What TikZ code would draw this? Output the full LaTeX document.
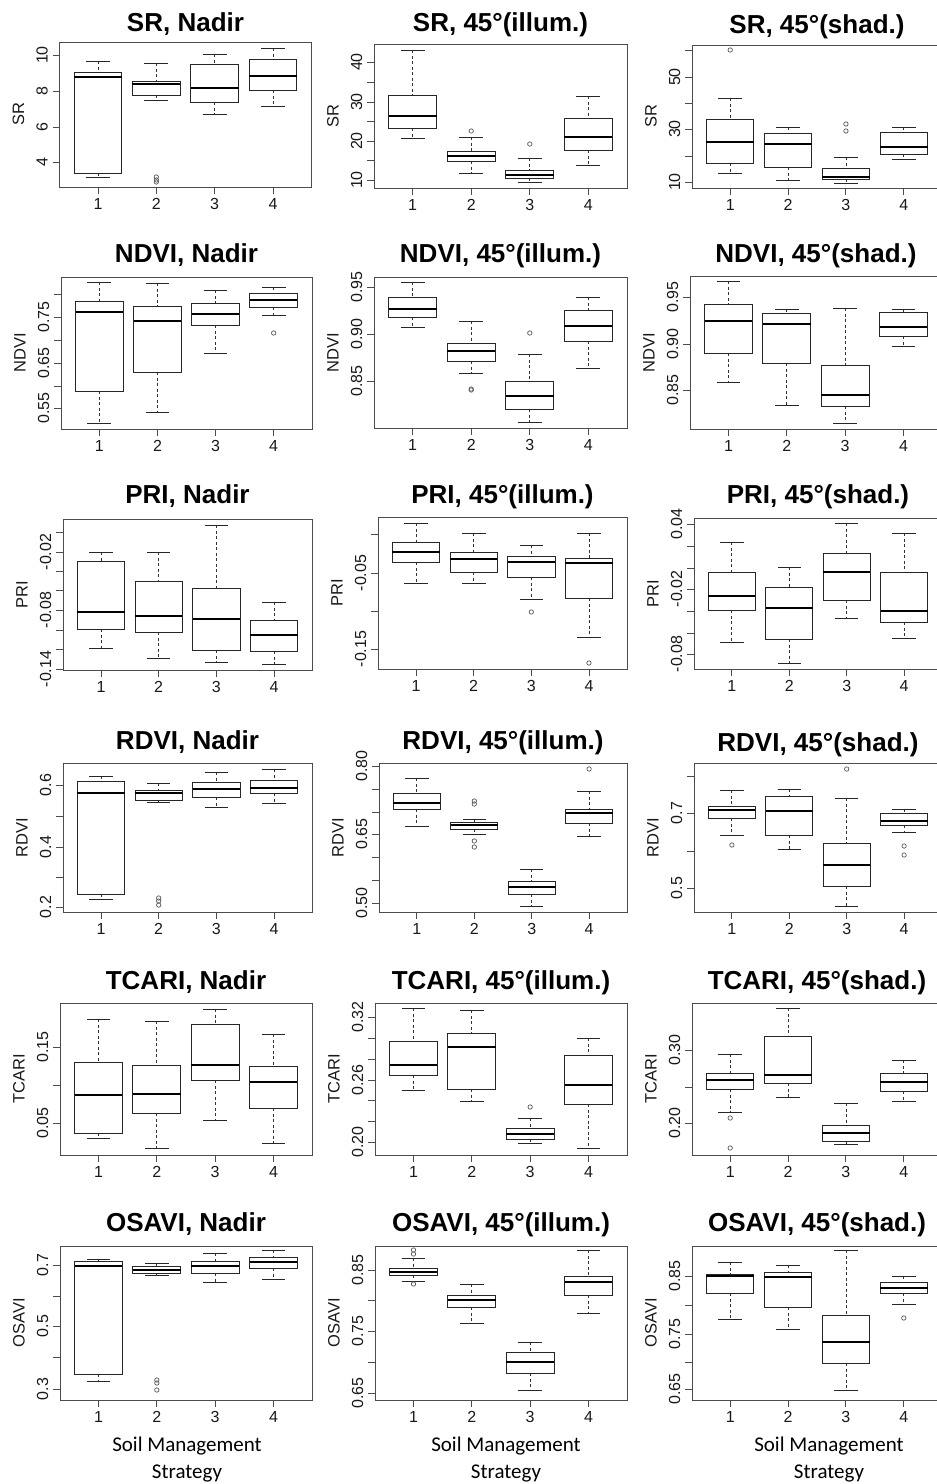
\documentclass[tikz,border=0pt]{standalone}
\usepackage{fontspec}
\setmainfont{Liberation Sans}
\newfontfamily\calfont{Carlito}
\newcommand\setpanel[4]{%
  \pgfmathsetmacro\pL{#1}\pgfmathsetmacro\pR{#2}%
  \pgfmathsetmacro\pT{#3}\pgfmathsetmacro\pB{#4}%
  \pgfmathsetmacro\pS{(#2-#1)/4.32}%
  \pgfmathsetmacro\hw{0.41*\pS}\pgfmathsetmacro\cw{0.205*\pS}%
  \draw[frame] (\pL,\pT) rectangle (\pR,\pB);
  \foreach \i in {1,...,4}{
    \pgfmathsetmacro\xc{\pL+(\i-0.34)*\pS}
    \draw[frame] (\xc,\pB) -- (\xc,\pB+7);
    \node[ticklab] at (\xc,\pB+16.5) {\i};
  }
}
\newcommand\ytk[2]{%
  \draw[frame] (\pL-7,#1) -- (\pL,#1);
  \node[ticklab,rotate=90] at (\pL-17.5,#1) {#2};}
\newcommand\ylab[1]{\node[axlab,rotate=90] at (\pL-41,{(\pT+\pB)/2}) {#1};}
\newcommand\ptitle[2]{\node[ttl,anchor=base] at ({(\pL+\pR)/2},#1+9.5) {#2};}
\newcommand\bxp[6]{%
  \pgfmathsetmacro\xc{\pL+(#1-0.34)*\pS}%
  \draw[whisk] (\xc,#2) -- (\xc,#3) (\xc,#5) -- (\xc,#6);
  \draw[capline] (\xc-\cw,#2) -- (\xc+\cw,#2) (\xc-\cw,#6) -- (\xc+\cw,#6);
  \draw[boxline] (\xc-\hw,#3) rectangle (\xc+\hw,#5);
  \draw[medline] (\xc-\hw,#4) -- (\xc+\hw,#4);}
\newcommand\outp[2]{%
  \pgfmathsetmacro\xc{\pL+(#1-0.34)*\pS}%
  \draw[outl] (\xc,#2) circle[radius=2.2pt];}
\begin{document}
\begin{tikzpicture}[x=1pt,y=-1pt,
  frame/.style={draw=black!70, line width=0.9pt},
  boxline/.style={draw=black!85, line width=0.9pt},
  whisk/.style={draw=black!80, line width=0.8pt, dash pattern=on 3pt off 2.5pt},
  capline/.style={draw=black!85, line width=0.9pt},
  medline/.style={draw=black, line width=2.2pt},
  outl/.style={draw=black!65, line width=0.7pt},
  ticklab/.style={font=\fontsize{16}{16}\selectfont, inner sep=0pt, text=black!90},
  axlab/.style={font=\fontsize{16.5}{16.5}\selectfont, inner sep=0pt, text=black!90},
  ttl/.style={font=\fontsize{26}{26}\selectfont\bfseries, inner sep=0pt},
  botlab/.style={font=\calfont\fontsize{21}{21}\selectfont, inner sep=0pt, anchor=base}]
\useasboundingbox (0,0) rectangle (937,1484);
\clip (0,0) rectangle (937,1484);
\fill[white] (0,0) rectangle (937,1484);
% ---------- Row 1: SR
\setpanel{59.5}{311.5}{42}{187}
\ptitle{22}{SR, Nadir}\ylab{SR}
\ytk{55}{10}\ytk{91}{8}\ytk{127}{6}\ytk{162}{4}
\bxp{1}{61}{72}{77}{173}{177}
\bxp{2}{63}{81}{84}{95}{100}\outp{2}{177}\outp{2}{180}\outp{2}{182}
\bxp{3}{54}{64}{88}{102}{114}
\bxp{4}{48}{59}{76}{90}{106}
\setpanel{374}{627}{44}{188}
\ptitle{22}{SR, 45°(illum.)}\ylab{SR}
\ytk{62}{40}\ytk{82}{}\ytk{102}{30}\ytk{121}{}\ytk{141}{20}\ytk{160}{}\ytk{180}{10}
\bxp{1}{50}{95}{116}{128}{138}
\bxp{2}{137}{151}{156}{161}{173}\outp{2}{131}
\bxp{3}{158}{170}{175}{178}{182}\outp{3}{144}
\bxp{4}{96}{118}{137}{150}{165}
\setpanel{692}{942}{45}{188}
\ptitle{24}{SR, 45°(shad.)}\ylab{SR}
\ytk{50}{}\ytk{77}{50}\ytk{103}{}\ytk{129}{30}\ytk{156}{}\ytk{182}{10}
\bxp{1}{98}{119}{142}{163}{173}\outp{1}{50}
\bxp{2}{127}{133}{144}{167}{180}
\bxp{3}{157}{168}{177}{179}{183}\outp{3}{124}\outp{3}{131}
\bxp{4}{127}{132}{147}{154}{159}
% ---------- Row 2: NDVI
\setpanel{61}{312}{277}{429}
\ptitle{253}{NDVI, Nadir}\ylab{NDVI}
\ytk{294}{}\ytk{317}{0.75}\ytk{340}{}\ytk{363}{0.65}\ytk{386}{}\ytk{408}{0.55}
\bxp{1}{282}{301}{312}{391}{423}
\bxp{2}{283}{306}{321}{372}{412}
\bxp{3}{290}{303}{314}{325}{353}
\bxp{4}{287}{293}{300}{307}{315}\outp{4}{333}
\setpanel{374}{627}{277}{428}
\ptitle{253}{NDVI, 45°(illum.)}\ylab{NDVI}
\ytk{287}{0.95}\ytk{334}{0.90}\ytk{381}{0.85}
\bxp{1}{282}{297}{309}{317}{327}
\bxp{2}{321}{343}{351}{361}{373}\outp{2}{389}\outp{2}{390}
\bxp{3}{354}{381}{396}{409}{422}\outp{3}{333}
\bxp{4}{297}{310}{326}{341}{368}
\setpanel{690}{942}{276}{429}
\ptitle{253}{NDVI, 45°(shad.)}\ylab{NDVI}
\ytk{297}{0.95}\ytk{344}{0.90}\ytk{390}{0.85}
\bxp{1}{281}{304}{321}{353}{382}
\bxp{2}{309}{313}{324}{363}{405}
\bxp{3}{308}{365}{395}{406}{423}
\bxp{4}{309}{312}{327}{336}{346}
% ---------- Row 3: PRI
\setpanel{63}{312}{519}{670}
\ptitle{494}{PRI, Nadir}\ylab{PRI}
\ytk{532}{}\ytk{552}{-0.02}\ytk{571}{}\ytk{590}{}\ytk{610}{-0.08}\ytk{630}{}\ytk{649}{}\ytk{669}{-0.14}
\bxp{1}{552}{561}{612}{629}{648}
\bxp{2}{552}{581}{616}{632}{658}
\bxp{3}{525}{588}{619}{650}{662}
\bxp{4}{602}{620}{635}{651}{664}
\setpanel{378}{627}{517}{669}
\ptitle{494}{PRI, 45°(illum.)}\ylab{PRI}
\ytk{534}{}\ytk{573}{-0.05}\ytk{611}{}\ytk{649}{-0.15}
\bxp{1}{523}{542}{552}{562}{583}
\bxp{2}{533}{552}{559}{572}{583}
\bxp{3}{545}{556}{562}{577}{599}\outp{3}{612}
\bxp{4}{533}{558}{563}{598}{637}\outp{4}{663}
\setpanel{694}{942}{518}{669}
\ptitle{494}{PRI, 45°(shad.)}\ylab{PRI}
\ytk{524}{0.04}\ytk{546}{}\ytk{568}{}\ytk{589}{-0.02}\ytk{611}{}\ytk{633}{}\ytk{654}{-0.08}
\bxp{1}{542}{572}{596}{610}{642}
\bxp{2}{567}{587}{608}{639}{663}
\bxp{3}{523}{553}{572}{600}{618}
\bxp{4}{533}{572}{611}{622}{638}
% ---------- Row 4: RDVI
\setpanel{63}{312}{763}{912}
\ptitle{740}{RDVI, Nadir}\ylab{RDVI}
\ytk{785}{0.6}\ytk{816}{}\ytk{847}{0.4}\ytk{877}{}\ytk{907}{0.2}
\bxp{1}{776}{781}{793}{894}{899}
\bxp{2}{783}{790}{793}{800}{802}\outp{2}{898}\outp{2}{901}\outp{2}{905}
\bxp{3}{772}{782}{789}{797}{807}
\bxp{4}{769}{780}{788}{793}{803}
\setpanel{379}{627}{763}{912}
\ptitle{740}{RDVI, 45°(illum.)}\ylab{RDVI}
\ytk{766}{0.80}\ytk{789}{}\ytk{812}{}\ytk{834}{0.65}\ytk{857}{}\ytk{880}{}\ytk{903}{0.50}
\bxp{1}{778}{793}{803}{809}{826}
\bxp{2}{819}{822}{825}{829}{834}\outp{2}{801}\outp{2}{804}\outp{2}{841}\outp{2}{847}
\bxp{3}{869}{881}{887}{894}{906}
\bxp{4}{791}{809}{813}{823}{836}\outp{4}{769}
\setpanel{694}{942}{763}{912}
\ptitle{742}{RDVI, 45°(shad.)}\ylab{RDVI}
\ytk{776}{}\ytk{813}{0.7}\ytk{851}{}\ytk{888}{0.5}
\bxp{1}{790}{806}{810}{818}{835}\outp{1}{845}
\bxp{2}{789}{796}{811}{835}{849}
\bxp{3}{798}{843}{865}{886}{906}\outp{3}{769}
\bxp{4}{809}{813}{821}{825}{832}\outp{4}{846}\outp{4}{855}
% ---------- Row 5: TCARI
\setpanel{60}{312}{1003}{1155}
\ptitle{980}{TCARI, Nadir}\ylab{TCARI}
\ytk{1047}{0.15}\ytk{1085}{}\ytk{1123}{0.05}
\bxp{1}{1019}{1062}{1095}{1133}{1138}
\bxp{2}{1021}{1065}{1094}{1113}{1148}
\bxp{3}{1009}{1024}{1065}{1080}{1120}
\bxp{4}{1034}{1066}{1082}{1108}{1143}
\setpanel{375}{627}{1003}{1155}
\ptitle{980}{TCARI, 45°(illum.)}\ylab{TCARI}
\ytk{1017}{0.32}\ytk{1038}{}\ytk{1059}{}\ytk{1080}{0.26}\ytk{1100}{}\ytk{1121}{}\ytk{1142}{0.20}
\bxp{1}{1008}{1041}{1065}{1075}{1090}
\bxp{2}{1010}{1033}{1047}{1089}{1101}
\bxp{3}{1118}{1128}{1134}{1139}{1143}\outp{3}{1107}
\bxp{4}{1038}{1055}{1085}{1104}{1148}
\setpanel{692}{942}{1003}{1155}
\ptitle{980}{TCARI, 45°(shad.)}\ylab{TCARI}
\ytk{1050}{0.30}\ytk{1087}{}\ytk{1123}{0.20}
\bxp{1}{1054}{1073}{1080}{1089}{1112}\outp{1}{1118}\outp{1}{1148}
\bxp{2}{1008}{1036}{1075}{1083}{1097}
\bxp{3}{1103}{1125}{1133}{1141}{1144}
\bxp{4}{1060}{1073}{1082}{1091}{1101}
% ---------- Row 6: OSAVI
\setpanel{60}{312}{1246}{1400}
\ptitle{1222}{OSAVI, Nadir}\ylab{OSAVI}
\ytk{1265}{0.7}\ytk{1296}{}\ytk{1326}{0.5}\ytk{1357}{}\ytk{1389}{0.3}
\bxp{1}{1259}{1261}{1266}{1374}{1381}
\bxp{2}{1263}{1266}{1270}{1273}{1275}\outp{2}{1380}\outp{2}{1383}\outp{2}{1390}
\bxp{3}{1253}{1261}{1266}{1273}{1282}
\bxp{4}{1250}{1257}{1262}{1268}{1279}
\setpanel{375}{627}{1246}{1400}
\ptitle{1222}{OSAVI, 45°(illum.)}\ylab{OSAVI}
\ytk{1270}{0.85}\ytk{1300}{}\ytk{1331}{0.75}\ytk{1362}{}\ytk{1393}{0.65}
\bxp{1}{1258}{1268}{1272}{1275}{1281}\outp{1}{1250}\outp{1}{1254}\outp{1}{1284}
\bxp{2}{1284}{1295}{1300}{1307}{1323}
\bxp{3}{1342}{1352}{1362}{1373}{1390}
\bxp{4}{1250}{1276}{1282}{1295}{1313}
\setpanel{692}{942}{1246}{1400}
\ptitle{1222}{OSAVI, 45°(shad.)}\ylab{OSAVI}
\ytk{1276}{0.85}\ytk{1305}{}\ytk{1334}{0.75}\ytk{1362}{}\ytk{1389}{0.65}
\bxp{1}{1262}{1274}{1276}{1293}{1319}
\bxp{2}{1265}{1272}{1277}{1307}{1329}
\bxp{3}{1250}{1315}{1342}{1363}{1390}
\bxp{4}{1276}{1282}{1288}{1293}{1304}\outp{4}{1318}
% ---------- bottom labels
\node[botlab] (b1a) at (187,1451) {Soil Management};
\node[botlab] (b1b) at (187,1478) {Strategy};
\node[botlab] (b2a) at (506,1451) {Soil Management};
\node[botlab] (b2b) at (506,1478) {Strategy};
\node[botlab] (b3a) at (829,1451) {Soil Management};
\node[botlab] (b3b) at (829,1478) {Strategy};
\end{tikzpicture}
\end{document}
